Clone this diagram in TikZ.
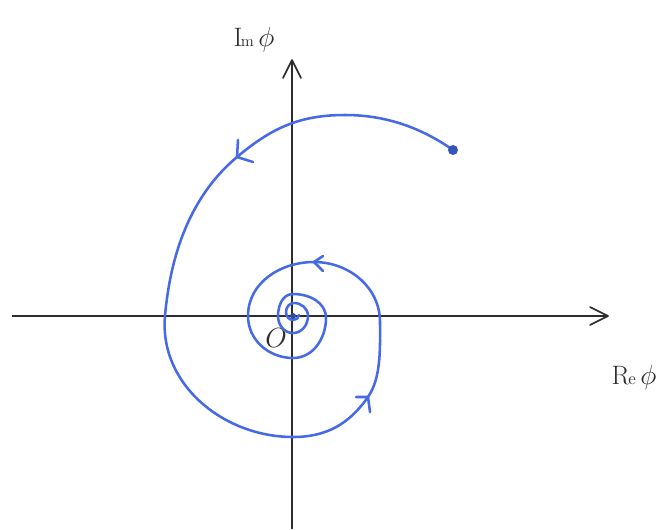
\documentclass[tikz,border=0pt]{standalone}
\usetikzlibrary{calc}
\definecolor{spiralblue}{RGB}{70,105,230}
\definecolor{axisgray}{RGB}{45,45,45}
\tikzset{
  axisline/.style={axisgray, line width=1.2pt},
  spiral/.style={spiralblue, line width=1.9pt, line cap=round, line join=round},
  chevron/.style={spiralblue, line width=1.9pt, line cap=round, line join=round},
  axchevron/.style={axisgray, line width=1.2pt, line cap=round, line join=round},
  lbl/.style={text=axisgray, font=\fontsize{20}{22}\selectfont, inner sep=0pt}
}
\begin{document}
\begin{tikzpicture}[x=0.75pt,y=0.75pt]
\useasboundingbox[fill=white] (0,0) rectangle (666,-529);
% axes
\coordinate (xl) at (12,-316);
\coordinate (xr) at (608,-316);
\coordinate (yb) at (292,-529);
\coordinate (yt) at (292,-60);
\draw[axisline] (xl) -- (xr);
\draw[axisline] (yb) -- (yt);
\draw[axchevron] ($(xr)+(-18,9)$) -- (xr) -- ($(xr)+(-18,-9)$);
\draw[axchevron] ($(yt)+(-9,-18)$) -- (yt) -- ($(yt)+(9,-18)$);
% labels
\node[lbl] (im) at (254,-40) {I\kern-1pt{\fontsize{12}{13}\selectfont m}\,$\phi$};
\node[lbl] (re) at (634,-378) {R\kern-1pt{\fontsize{13}{14}\selectfont e}\,$\phi$};
\node[lbl] (o) at (276,-338) {$O$};
% spiral
\coordinate (start) at (453,-150);
\coordinate (a1) at (237,-157);
\coordinate (a2) at (368,-397);
\coordinate (a3) at (314,-262);
\draw[spiral] (start)
  to[out=145,in=0,looseness=0.9] (345,-115)
  to[out=180,in=40] (a1)
  to[out=220,in=85,looseness=0.9] (165,-316)
  to[out=265,in=180] (293,-437)
  to[out=0,in=235] (a2)
  to[out=55,in=270,looseness=0.8] (380,-322)
  to[out=90,in=0] (a3)
  to[out=180,in=90] (248,-316)
  to[out=270,in=180] (293,-358)
  to[out=0,in=270] (326,-318)
  to[out=90,in=0] (293,-294)
  to[out=180,in=90] (278,-316)
  to[out=270,in=180] (293,-333)
  to[out=0,in=270] (308,-316)
  to[out=90,in=0] (294,-303)
  to[out=180,in=90] (286,-312)
  to[out=270,in=180] (293,-320)
  to[out=0,in=270] (299,-315);
\fill[spiralblue!80!black] (start) circle (5);
\fill[spiralblue!70!black] (293,-316) circle (3);
% direction chevrons
\draw[chevron] ($(a1)+(1,17)$) -- (a1) -- ($(a1)+(16,-5)$);
\draw[chevron] ($(a2)+(-12,0)$) -- (a2) -- ($(a2)+(2,-15)$);
\draw[chevron] ($(a3)+(9,6)$) -- (a3) -- ($(a3)+(9,-9)$);
\end{tikzpicture}
\end{document}
